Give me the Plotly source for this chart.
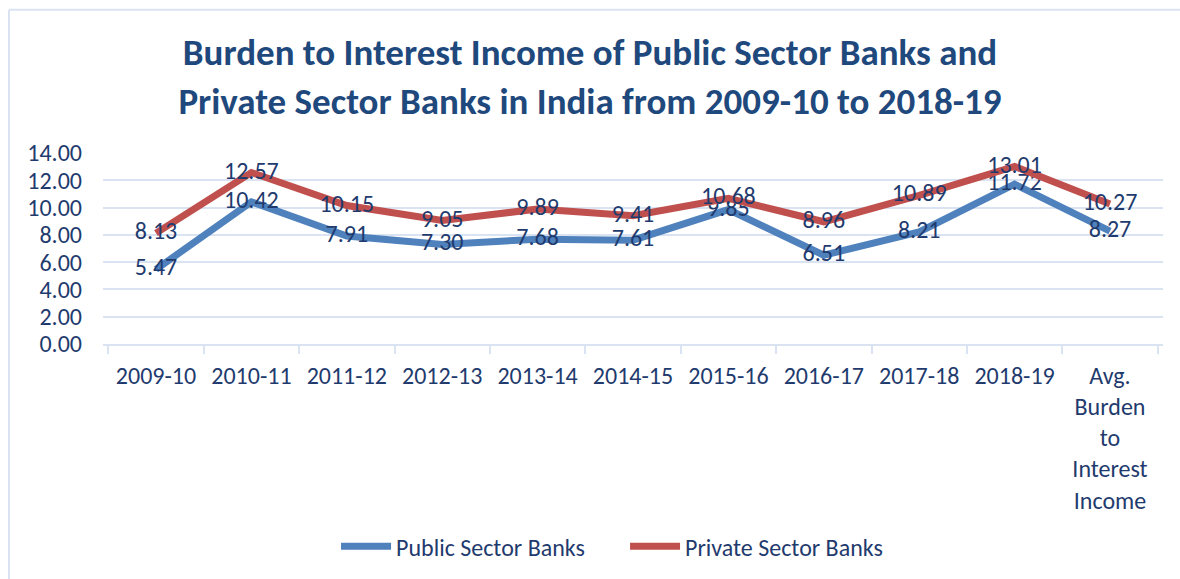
import plotly.graph_objects as go

categories = ["2009-10", "2010-11", "2011-12", "2012-13", "2013-14", "2014-15",
              "2015-16", "2016-17", "2017-18", "2018-19",
              "Avg.<br>Burden<br>to<br>Interest<br>Income"]
public_sector = [5.47, 10.42, 7.91, 7.30, 7.68, 7.61, 9.85, 6.51, 8.21, 11.72, 8.27]
private_sector = [8.13, 12.57, 10.15, 9.05, 9.89, 9.41, 10.68, 8.96, 10.89, 13.01, 10.27]
y_ticks = [0, 2, 4, 6, 8, 10, 12, 14]

FONT = "Carlito, Calibri, Lato, sans-serif"
TXT = "#1F3B6E"
GRID = "#D9E3F2"
FS = 24

fig = go.Figure()
fig.add_trace(go.Scatter(
    x=categories, y=public_sector, name="Public Sector Banks",
    mode="lines+text", line=dict(color="#4F81BD", width=7),
    text=[f"{v:.2f}" for v in public_sector], textposition="middle center",
    textfont=dict(family=FONT, size=FS, color=TXT), cliponaxis=False))
fig.add_trace(go.Scatter(
    x=categories, y=private_sector, name="Private Sector Banks",
    mode="lines+text", line=dict(color="#C0504D", width=7),
    text=[f"{v:.2f}" for v in private_sector], textposition="middle center",
    textfont=dict(family=FONT, size=FS, color=TXT), cliponaxis=False))

fig.update_layout(
    width=1180, height=579,
    margin=dict(l=103, r=17, t=153, b=234),
    paper_bgcolor="white", plot_bgcolor="white",
    title=dict(text="<b>Burden to Interest Income of Public Sector Banks and<br>Private Sector Banks in India from 2009-10 to 2018-19</b>",
               x=0.5, xanchor="center", y=0.887, yanchor="middle",
               font=dict(family=FONT, size=37, color="#1F497D")),
    font=dict(family=FONT, size=FS, color=TXT),
    showlegend=True,
    legend=dict(orientation="h", x=0.4925, xanchor="center", y=-1.05, yanchor="middle",
                font=dict(family=FONT, size=FS, color=TXT), itemwidth=50,
                entrywidth=224, entrywidthmode="pixels"),
    xaxis=dict(type="category", showgrid=False, showline=True, linecolor=GRID, linewidth=2,
               ticks="outside", tickson="boundaries", ticklen=8, tickcolor=GRID, tickwidth=2,
               tickfont=dict(family=FONT, size=FS, color=TXT), fixedrange=True,
               ticklabelstandoff=9),
    yaxis=dict(range=[0, 14], tickvals=y_ticks, tickformat=".2f", showgrid=True,
               gridcolor=GRID, gridwidth=2, zeroline=False, showline=False,
               tickfont=dict(family=FONT, size=FS, color=TXT), ticks="", ticklen=0,
               ticklabelstandoff=20),
)

# outer chart border (top and left edges visible)
fig.add_shape(type="line", xref="paper", yref="paper", x0=(9-103)/1060, x1=(1180-103)/1060 + 0.01,
              y0=(345-9)/192, y1=(345-9)/192, line=dict(color="#D9E3F2", width=2))
fig.add_shape(type="line", xref="paper", yref="paper", x0=(9-103)/1060, x1=(9-103)/1060,
              y0=(345-9)/192, y1=(345-590)/192, line=dict(color="#D9E3F2", width=2))

fig.write_html("out.html")
